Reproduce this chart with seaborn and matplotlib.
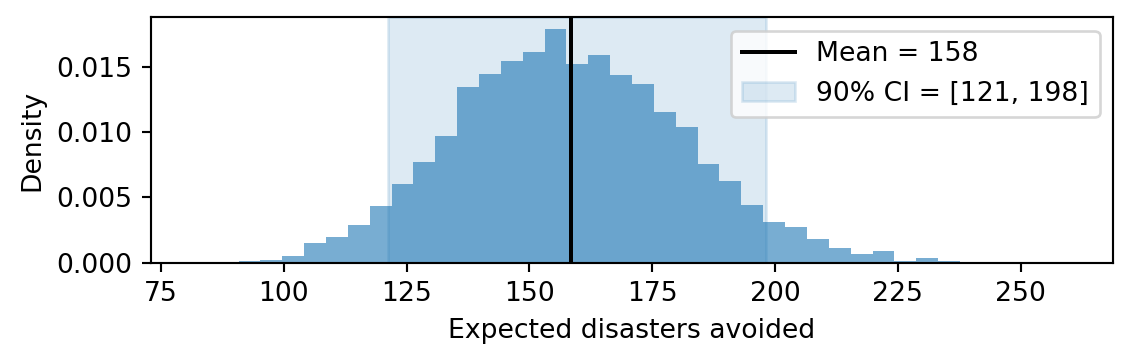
import numpy as np
import matplotlib
matplotlib.use("Agg")
import matplotlib.pyplot as plt
import seaborn as sns
import pandas as pd

# Histogram (density) values, 40 bins
bin_lo = 81.9
bin_hi = 259.9
n_bins = 40
density = [
    0.00002, 0.0, 0.00013, 0.00020, 0.00050, 0.00150, 0.00197, 0.00290,
    0.00436, 0.00605, 0.00774, 0.00974, 0.01344, 0.01444, 0.01544, 0.01613,
    0.01790, 0.01521, 0.01590, 0.01436, 0.01367, 0.01151, 0.01036, 0.00759,
    0.00628, 0.00444, 0.00313, 0.00274, 0.00182, 0.00113, 0.00067, 0.00090,
    0.00015, 0.00036, 0.00015, 0.0, 0.0, 0.0, 0.0, 0.00002,
]
mean_value = 158.4
ci_low = 121.2
ci_high = 198.2
mean_label = "Mean = 158"
ci_label = "90% CI = [121, 198]"
x_label = "Expected disasters avoided"
y_label = "Density"

edges = np.linspace(bin_lo, bin_hi, n_bins + 1)
centers = (edges[:-1] + edges[1:]) / 2
df = pd.DataFrame({"value": centers, "w": density})

DPI = 192
fig = plt.figure(figsize=(1132 / DPI, 364 / DPI), dpi=DPI)
ax = fig.add_axes([151.1 / 1132, 1 - 262.7 / 364, (1113 - 151.1) / 1132, (262.7 - 17.3) / 364])

sns.histplot(data=df, x="value", weights="w", bins=n_bins, binrange=(bin_lo, bin_hi),
             stat="count", color="C0", alpha=0.6, linewidth=0, ax=ax)
ax.axvline(mean_value, color="black", lw=1.5, label=mean_label)
ax.axvspan(ci_low, ci_high, color="C0", alpha=0.15, label=ci_label)

ax.set_xlabel(x_label)
ax.set_ylabel(y_label)
ax.legend(loc="upper right")

fig.savefig("out.png", dpi=DPI)
